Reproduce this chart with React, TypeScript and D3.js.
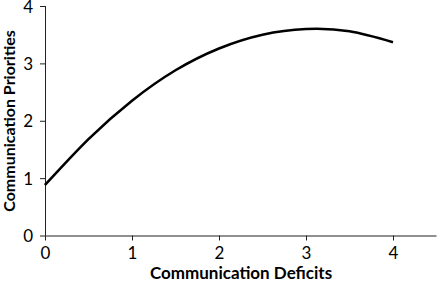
import React, { useRef, useEffect } from 'react';
import * as d3 from 'd3';

const xValues = [0, 0.5, 1, 1.5, 2, 2.5, 3, 3.5, 4];
const yValues = [0.88, 1.68, 2.35, 2.88, 3.26, 3.5, 3.6, 3.56, 3.37];
const xTicks = [0, 1, 2, 3, 4];
const yTicks = [0, 1, 2, 3, 4];

const App = () => {
  const svgRef = useRef<SVGSVGElement>(null);

  useEffect(() => {
    const svg = d3.select(svgRef.current);
    svg.selectAll('*').remove();

    const width = 438;
    const height = 283;
    const left = 45;
    const right = 436.5;
    const top = 6;
    const bottom = 235.5;

    const x = d3.scaleLinear().domain([0, 4.5]).range([left, right]);
    const y = d3.scaleLinear().domain([0, 4]).range([bottom, top]);

    const font = 'Lato, "Open Sans", sans-serif';

    const xAxis = svg.append('g')
      .attr('transform', `translate(0,${bottom})`)
      .call(d3.axisBottom(x).tickValues(xTicks).tickSize(5).tickPadding(6).tickFormat(d3.format('d')));
    xAxis.select('.domain').attr('d', `M${left},0.5H${right}`);

    const yAxis = svg.append('g')
      .attr('transform', `translate(${left},0)`)
      .call(d3.axisLeft(y).tickValues(yTicks).tickSize(5).tickPadding(7).tickFormat(d3.format('d')));
    yAxis.select('.domain').attr('d', `M0.5,${top}V${bottom}`);

    svg.selectAll('.domain').attr('stroke', '#222');
    svg.selectAll('.tick line').attr('stroke', '#222');
    svg.selectAll('.tick text')
      .attr('font-family', font)
      .attr('font-size', 17)
      .attr('fill', '#000');
    yAxis.selectAll('.tick text').attr('dy', '0.36em');

    const pts = xValues.map((v, i) => [v, yValues[i]] as [number, number]);
    const line = d3.line<[number, number]>()
      .x(d => x(d[0]))
      .y(d => y(d[1]))
      .curve(d3.curveNatural);

    svg.append('path')
      .datum(pts)
      .attr('d', line)
      .attr('fill', 'none')
      .attr('stroke', '#000')
      .attr('stroke-width', 2.6);

    svg.append('text')
      .attr('x', 241)
      .attr('y', 279)
      .attr('text-anchor', 'middle')
      .attr('font-family', font)
      .attr('font-weight', 'bold')
      .attr('font-size', 17)
      .text('Communication Deficits');

    svg.append('text')
      .attr('transform', `translate(15,121) rotate(-90)`)
      .attr('text-anchor', 'middle')
      .attr('font-family', font)
      .attr('font-weight', 'bold')
      .attr('font-size', 16)
      .text('Communication  Priorities');

    svg.attr('width', width).attr('height', height);
  }, []);

  return (
    <svg ref={svgRef} width={438} height={283} style={{ position: 'absolute', left: 0, top: 0 }} />
  );
};

export default App;
